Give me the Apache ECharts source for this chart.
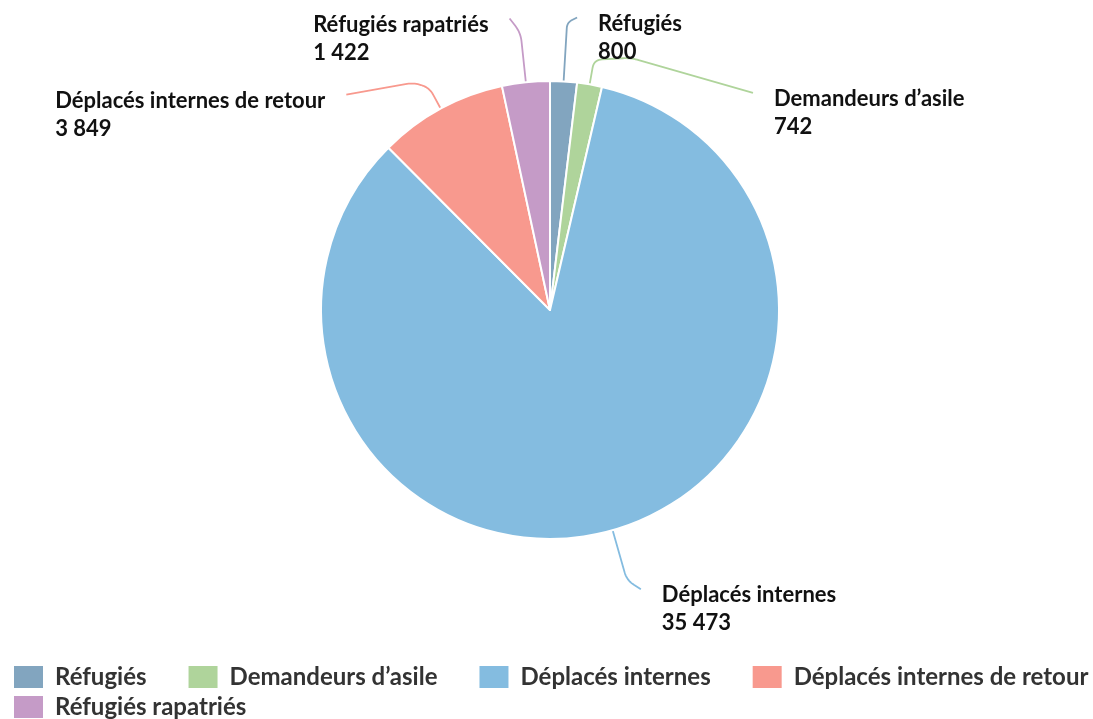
<!DOCTYPE html>
<html>
<head>
<meta charset="utf-8">
<script src="https://cdn.jsdelivr.net/npm/echarts@6/dist/echarts.min.js"></script>
<style>
  html, body { margin: 0; padding: 0; background: #ffffff; }
  #chart { width: 1093px; height: 719px; }
</style>
</head>
<body>
<div id="chart"></div>
<script>
// ---- Data ----
const categories = ['Réfugiés', 'Demandeurs d’asile', 'Déplacés internes', 'Déplacés internes de retour', 'Réfugiés rapatriés'];
const values = [800, 742, 35473, 3849, 1422];
const colors = ['#82A5BF', '#AFD49B', '#84BCE0', '#F8998E', '#C59BC7'];

// ---- Label-line styling (per slice: radial length, optional bend, final offset, corner radius) ----
const lineStyleCfg = [
  { len: 59, mid: null,      end: [10, -5],   rad: 12 },
  { len: 25, mid: [37, -2],  end: [159, 33],  rad: 8 },
  { len: 52, mid: null,      end: [14, 9],    rad: 12 },
  { len: 24, mid: [-16, -5], end: [-83, 7],   rad: 8 },
  { len: 50, mid: null,      end: [-11, -14], rad: 12 }
];

const CX = 550, CY = 310, R = 229;

function fmt(v) {
  return String(v).replace(/\B(?=(\d{3})+(?!\d))/g, ' ');
}

// round the corners of a polyline by sampling quadratic curves
function roundPolyline(pts, radius) {
  const out = [pts[0]];
  for (let i = 1; i < pts.length - 1; i++) {
    const A = pts[i - 1], V = pts[i], B = pts[i + 1];
    const la = Math.hypot(A[0] - V[0], A[1] - V[1]);
    const lb = Math.hypot(B[0] - V[0], B[1] - V[1]);
    const c = Math.min(radius, la / 2, lb / 2);
    const Pa = [V[0] + (A[0] - V[0]) / la * c, V[1] + (A[1] - V[1]) / la * c];
    const Pb = [V[0] + (B[0] - V[0]) / lb * c, V[1] + (B[1] - V[1]) / lb * c];
    const n = 10;
    for (let k = 0; k <= n; k++) {
      const t = k / n, u = 1 - t;
      out.push([
        u * u * Pa[0] + 2 * u * t * V[0] + t * t * Pb[0],
        u * u * Pa[1] + 2 * u * t * V[1] + t * t * Pb[1]
      ]);
    }
  }
  out.push(pts[pts.length - 1]);
  return out;
}

const chart = echarts.init(document.getElementById('chart'), null, { renderer: 'canvas' });

const pieData = categories.map((c, i) => ({
  name: c,
  value: values[i],
  itemStyle: { color: colors[i] },
  labelLine: { lineStyle: { color: colors[i] } }
}));

const legendTextStyle = { fontFamily: 'Lato', fontSize: 24, fontWeight: 'bold', color: '#333333', padding: [0, 0, 0, 6] };

const option = {
  backgroundColor: '#ffffff',
  animation: false,
  legend: [
    {
      data: categories.slice(0, 4),
      left: 12, top: 664, padding: 0,
      itemWidth: 31, itemHeight: 24, itemGap: 40,
      icon: 'rect',
      textStyle: legendTextStyle
    },
    {
      data: categories.slice(4),
      left: 12, top: 694, padding: 0,
      itemWidth: 31, itemHeight: 24, itemGap: 40,
      icon: 'rect',
      textStyle: legendTextStyle
    }
  ],
  series: [{
    type: 'pie',
    center: [CX, CY],
    radius: R,
    startAngle: 90,
    clockwise: true,
    avoidLabelOverlap: false,
    itemStyle: { borderColor: '#ffffff', borderWidth: 2 },
    label: {
      show: true,
      position: 'outside',
      fontFamily: 'Lato',
      fontSize: 22,
      fontWeight: 'bold',
      color: '#111111',
      lineHeight: 28,
      formatter: p => p.name + '\n' + fmt(p.value)
    },
    labelLine: { show: true, length: 30, length2: 10, smooth: false, lineStyle: { width: 1.8 } },
    emphasis: { disabled: true },
    labelLayout: function (params) {
      const i = params.dataIndex;
      const cfg = lineStyleCfg[i];
      const p0 = params.labelLinePoints[0];
      const dx = p0[0] - CX, dy = p0[1] - CY;
      const d = Math.sqrt(dx * dx + dy * dy);
      const p1 = [p0[0] + dx / d * cfg.len, p0[1] + dy / d * cfg.len];
      const pts = [p0, p1];
      if (cfg.mid) pts.push([p1[0] + cfg.mid[0], p1[1] + cfg.mid[1]]);
      const end = [p1[0] + cfg.end[0], p1[1] + cfg.end[1]];
      pts.push(end);
      const right = end[0] >= CX;
      const w = params.labelRect.width;
      return {
        x: right ? end[0] + 21 : end[0] - 21 - w,
        y: end[1] + 20,
        align: 'left',
        verticalAlign: 'middle',
        labelLinePoints: roundPolyline(pts, cfg.rad)
      };
    },
    data: pieData
  }]
};

chart.setOption(option);
</script>
</body>
</html>
